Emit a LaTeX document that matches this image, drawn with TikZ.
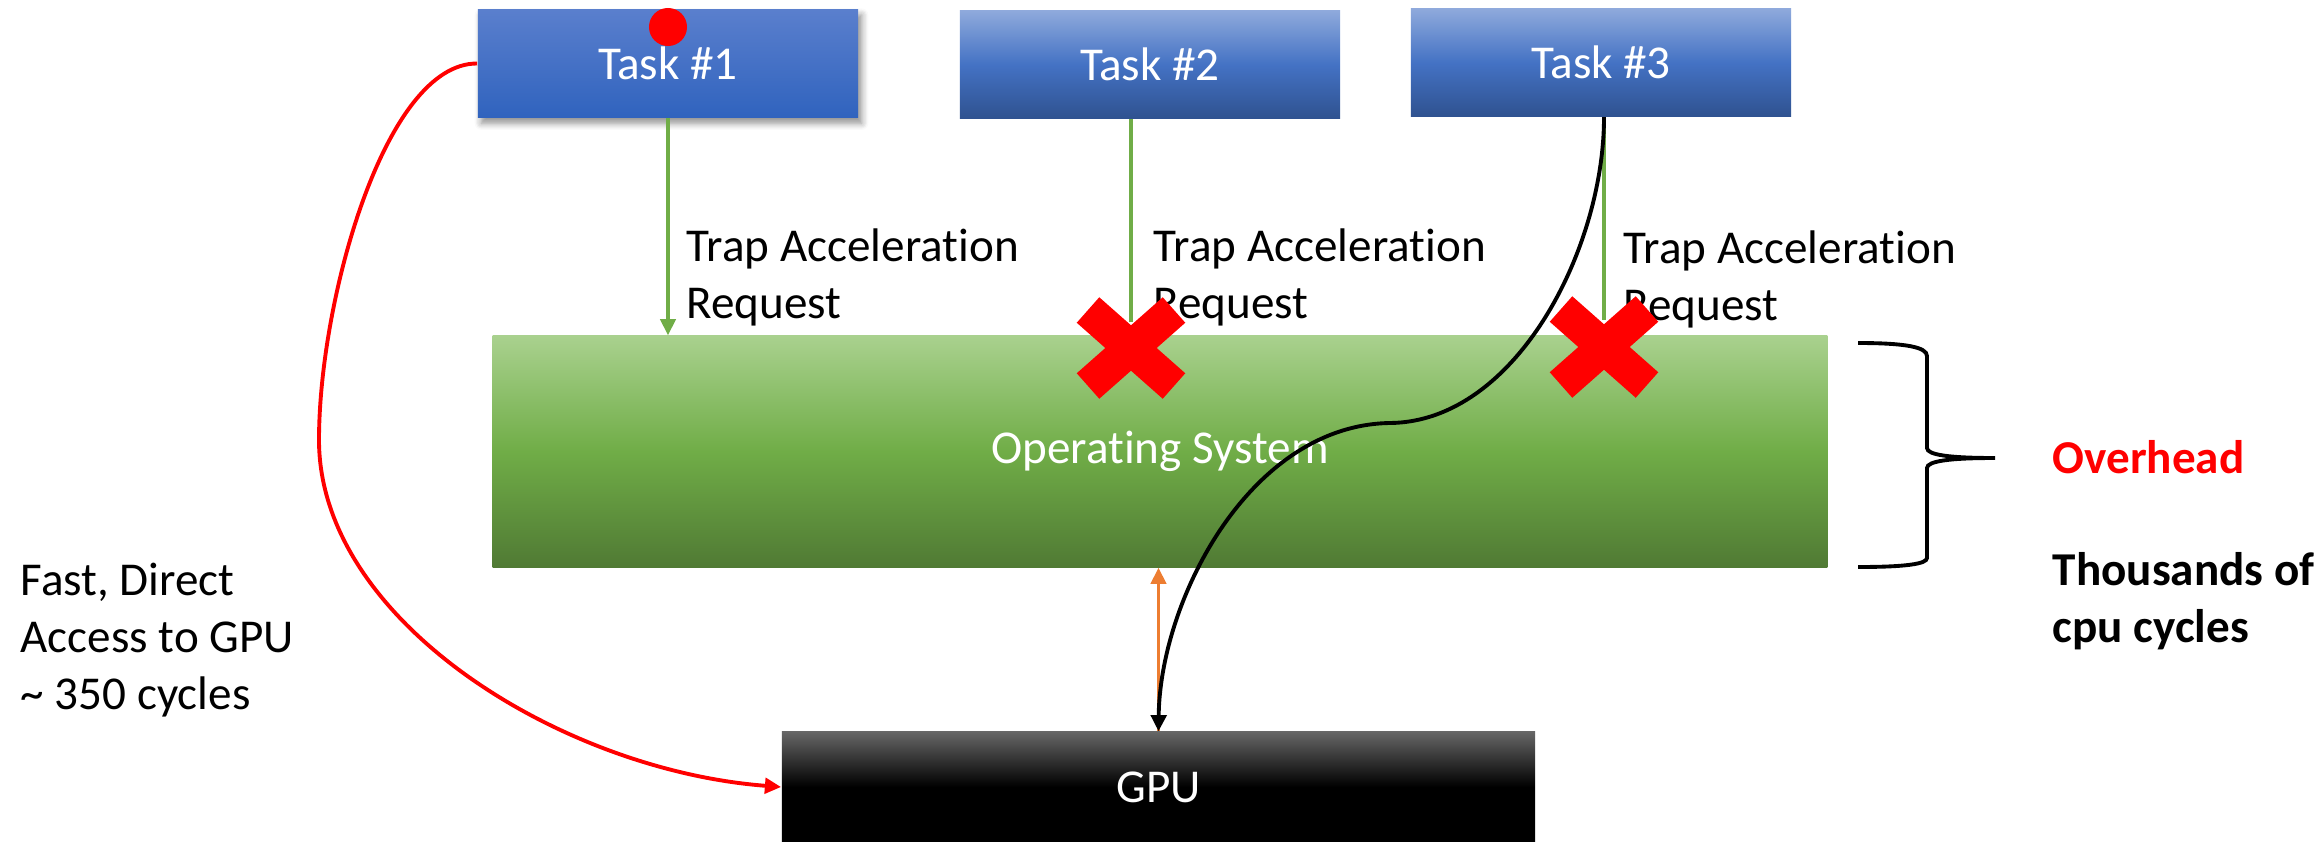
\documentclass[tikz,border=0pt]{standalone}
\usepackage{fontspec}
\setmainfont{Carlito}[Ligatures=NoCommon]
\usetikzlibrary{arrows.meta,shadows.blur}

\definecolor{taskA}{RGB}{90,127,205}
\definecolor{taskB}{RGB}{48,99,190}
\definecolor{tasktop}{RGB}{143,170,220}
\definecolor{taskmid}{RGB}{68,114,196}
\definecolor{taskbot}{RGB}{47,82,144}
\definecolor{ostop}{RGB}{169,209,142}
\definecolor{osmid}{RGB}{112,173,71}
\definecolor{osbot}{RGB}{80,122,52}
\definecolor{gputop}{RGB}{102,102,102}
\definecolor{reqgreen}{RGB}{112,173,71}
\definecolor{busorange}{RGB}{237,125,49}
\definecolor{alertred}{RGB}{255,0,0}

\begin{document}
\begin{tikzpicture}[x=0.01cm,y=-0.01cm,
  >={Triangle[length=4.6pt,width=4.4pt]},
  txt/.style={font=\fontsize{13.4}{16.2}\selectfont},
  box/.style={txt,text=white,inner sep=0pt,draw=none},
  task/.style={box,minimum width=3.8cm,minimum height=1.08cm,
    top color=tasktop,bottom color=taskbot,middle color=taskmid},
  label/.style={txt,align=left,anchor=west,inner sep=0pt},
  request/.style={draw=reqgreen,line width=0.9pt},
  xmark/.style={draw=alertred,line width=0.34cm,line cap=butt}
]
\useasboundingbox (0,0) rectangle (2323,842);

% task boxes
\node[task,top color=taskA,bottom color=taskB,middle color=taskA!50!taskB,
  blur shadow={shadow xshift=1pt,shadow yshift=-1.6pt,shadow blur steps=6,shadow opacity=45}]
  (t1) at (668,63.5) {Task \#1};
\node[task] (t2) at (1150,64.5) {Task \#2};
\node[task] (t3) at (1601,62.5) {Task \#3};
\node[circle,fill=alertred,inner sep=0pt,minimum size=0.38cm] (dot) at (668,27) {};

% operating system and GPU
\node[box,minimum width=13.34cm,minimum height=2.31cm,
  top color=ostop,bottom color=osbot,middle color=osmid] (os) at (1160,451.5) {Operating System};
\node[box,minimum width=7.53cm,minimum height=1.1cm,
  top color=gputop,bottom color=black,middle color=black] (gpu) at (1158.5,787) {GPU};

% acceleration requests
\coordinate (r2) at (1131,322);
\coordinate (r3) at (1604,320);
\coordinate (x2) at (1131,348);
\coordinate (x3) at (1604,347);
\draw[request,->] (t1.south) -- (t1.south |- os.north);
\draw[request] (r2 |- t2.south) -- (r2);
\draw[request] (r3 |- t3.south) -- (r3);

\node[label] (l1) at (686,277) {Trap Acceleration\\Request};
\node[label] (l2) at (1153,277) {Trap Acceleration\\Request};
\node[label] (l3) at (1623,279) {Trap Acceleration\\Request};

% path through the operating system
\draw[busorange,line width=0.9pt,->] (gpu.north) -- (gpu.north |- os.south);
\draw[black,line width=1.1pt,->] (r3 |- t3.south)
  .. controls (1604,250) and (1515,422) .. (1390,423)
  .. controls (1250,425) and (1160,600) .. (gpu.north);

% direct path to the GPU
\draw[alertred,line width=1.1pt,->] (t1.west)
  .. controls (385,63) and (319,300) .. (319,440)
  .. controls (319,620) and (560,770) .. (gpu.west);

% rejected requests
\draw[xmark] ([shift={(-43,-38)}]x2) -- ([shift={(43,38)}]x2);
\draw[xmark] ([shift={(-43,38)}]x2) -- ([shift={(43,-38)}]x2);
\draw[xmark] ([shift={(-43,-38)}]x3) -- ([shift={(43,38)}]x3);
\draw[xmark] ([shift={(-43,38)}]x3) -- ([shift={(43,-38)}]x3);

% overhead brace
\coordinate (btip) at (1995,458);
\draw[line width=1.1pt] (1858,343) .. controls (1905,343) and (1927,347) .. (1927,356)
  -- (1927,448) .. controls (1927,455) and (1950,458) .. (btip)
  .. controls (1950,458) and (1927,461) .. (1927,468)
  -- (1927,558) .. controls (1927,564) and (1905,567) .. (1858,567);

% side notes
\node[label] (fast) at (20,640) {Fast, Direct\\Access to GPU\\\textasciitilde\ 350 cycles};
\node[label,font=\fontsize{13.4}{16.2}\selectfont\bfseries,text=alertred] (ovh) at (2052,457) {Overhead};
\node[label,font=\fontsize{13.4}{16.2}\selectfont\bfseries] (thou) at (2052,601) {Thousands of\\cpu cycles};
\end{tikzpicture}
\end{document}
